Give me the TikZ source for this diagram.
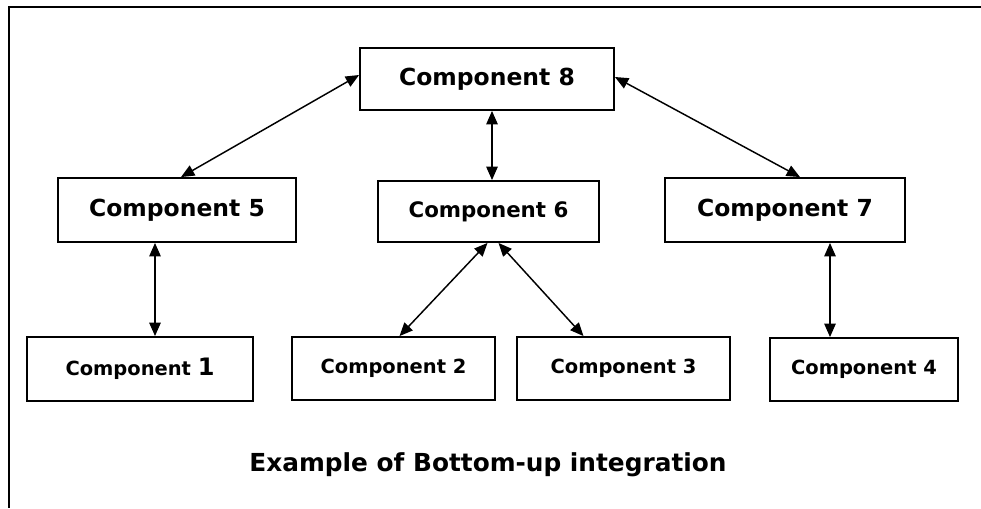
\documentclass[tikz,border=0pt]{standalone}
\usepackage{fontspec}
\setmainfont{DejaVu Sans}
\usetikzlibrary{arrows.meta,calc}
\begin{document}
\begin{tikzpicture}[x=0.75pt,y=-0.75pt,
  box/.style={draw,line width=1.4pt,rectangle,inner sep=0pt,font=\bfseries},
  big/.style={font=\fontsize{17.6}{19}\selectfont\bfseries},
  small/.style={font=\fontsize{14.6}{16}\selectfont\bfseries},
  link/.style={line width=1.1pt,{Triangle[length=10pt,width=8.5pt]}-{Triangle[length=10pt,width=8.5pt]}}]
\useasboundingbox (0,0) rectangle (981,508);
% frame
\draw[line width=1.4pt] (981,7) -- (9,7) -- (9,508);
% top level
\node[box,big,minimum width=254*0.75pt,minimum height=62*0.75pt] (c8) at (487,79) {Component 8};
% middle level
\node[box,big,minimum width=238*0.75pt,minimum height=64*0.75pt] (c5) at (177,210) {Component 5};
\node[box,font=\fontsize{16}{17}\selectfont\bfseries,minimum width=221*0.75pt,minimum height=61*0.75pt] (c6) at (488.5,211.5) {Component 6};
\node[box,big,minimum width=240*0.75pt,minimum height=64*0.75pt] (c7) at (785,210) {Component 7};
% bottom level
\node[box,small,minimum width=226*0.75pt,minimum height=64*0.75pt] (c1) at (140,369) {Component {\fontsize{18}{19}\selectfont 1}};
\node[box,small,minimum width=203*0.75pt,minimum height=63*0.75pt] (c2) at (393.5,368.5) {Component 2};
\node[box,small,minimum width=213*0.75pt,minimum height=63*0.75pt] (c3) at (623.5,368.5) {Component 3};
\node[box,small,minimum width=188*0.75pt,minimum height=63*0.75pt] (c4) at (864,369.5) {Component 4};
% caption
\node[font=\fontsize{18.6}{20}\selectfont\bfseries] (cap) at (488,465) {Example of Bottom-up integration};
% connectors
\draw[link] ($(c5.north)+(4,0)$) -- ($(c8.west)+(0,-4)$);
\draw[link] ($(c8.east)+(0,-2)$) -- ($(c7.north)+(15,0)$);
\draw[link] ($(c8.south)+(5,0)$) -- ($(c6.north)+(3.5,0)$);
\draw[link] ($(c5.south)+(-22,0)$) -- ($(c1.north)+(15,0)$);
\draw[link] ($(c6.south)+(-1,0)$) -- ($(c2.north)+(6,0)$);
\draw[link] ($(c6.south)+(10,0)$) -- ($(c3.north)+(-40,0)$);
\draw[link] ($(c7.south)+(45,0)$) -- ($(c4.north)+(-34,0)$);
\end{tikzpicture}
\end{document}
